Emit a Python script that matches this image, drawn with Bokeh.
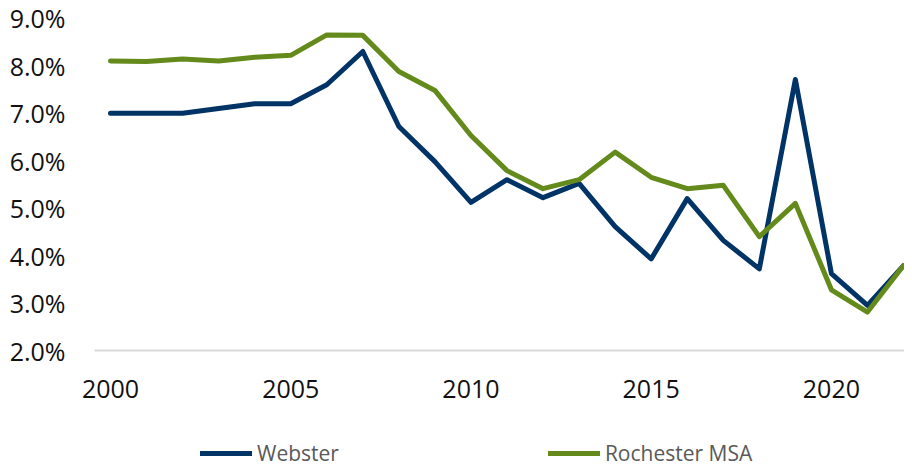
from bokeh.plotting import figure
from bokeh.models import Legend, LegendItem, FixedTicker, PrintfTickFormatter, Range1d, LinearAxis
from bokeh.embed import file_html
from bokeh.resources import INLINE

years = list(range(2000, 2023))
webster = [7.0, 7.0, 7.0, 7.1, 7.2, 7.2, 7.6, 8.3, 6.72, 5.98, 5.12, 5.6, 5.22, 5.52,
           4.61, 3.93, 5.2, 4.32, 3.72, 7.71, 3.62, 2.95, 3.79]
rochester = [8.10, 8.09, 8.14, 8.10, 8.18, 8.22, 8.65, 8.64, 7.88, 7.48, 6.53, 5.79, 5.41,
             5.60, 6.18, 5.65, 5.41, 5.48, 4.40, 5.10, 3.28, 2.81, 3.79]
y_ticks = [2, 3, 4, 5, 6, 7, 8, 9]
x_ticks = [2000, 2005, 2010, 2015, 2020]
series_names = ["Webster", "Rochester MSA"]
colors = ["#003366", "#648A1C"]

FONT = "Open Sans"

# frame spans the whole lower area; the 2.0% baseline axis sits inside it
p = figure(width=904, height=467, output_backend="svg", toolbar_location=None,
           x_range=Range1d(1998.8904, 2022.0277), y_range=Range1d(-0.465, 9.164),
           x_axis_location=None, y_axis_location=None,
           min_border_left=70, min_border_right=0, min_border_top=10, min_border_bottom=0)
p.outline_line_color = None
p.xgrid.grid_line_color = None
p.ygrid.grid_line_color = None

r1 = p.line(years, webster, line_color=colors[0], line_width=5, line_cap="round", line_join="round")
r2 = p.line(years, rochester, line_color=colors[1], line_width=5, line_cap="round", line_join="round")

xa = LinearAxis(fixed_location=2, bounds=(1999.55, 2022.5))
xa.ticker = FixedTicker(ticks=x_ticks)
xa.axis_line_color = "#D9D9D9"
xa.axis_line_width = 2
xa.major_tick_line_color = None
xa.minor_tick_line_color = None
xa.major_tick_out = 0
xa.major_tick_in = 0
xa.major_label_standoff = 29
xa.major_label_text_font = FONT
xa.major_label_text_font_size = "25px"
xa.major_label_text_color = "#111111"
p.add_layout(xa, "below")

ya = LinearAxis()
ya.ticker = FixedTicker(ticks=y_ticks)
ya.formatter = PrintfTickFormatter(format="%.1f%%")
ya.axis_line_color = None
ya.major_tick_line_color = None
ya.minor_tick_line_color = None
ya.major_tick_out = 0
ya.major_tick_in = 0
ya.major_label_standoff = 5
ya.major_label_text_font = FONT
ya.major_label_text_font_size = "25px"
ya.major_label_text_color = "#111111"
p.add_layout(ya, "left")

legend = Legend(items=[LegendItem(label=series_names[0], renderers=[r1]),
                       LegendItem(label=series_names[1], renderers=[r2])],
                orientation="horizontal", location=(130, 0),
                label_text_font=FONT, label_text_font_size="21px", label_text_color="#595959",
                glyph_width=52, glyph_height=10, label_standoff=5, spacing=209,
                padding=0, margin=0, border_line_color=None, background_fill_alpha=0)
p.add_layout(legend)

open("out.html", "w").write(file_html(p, INLINE))
